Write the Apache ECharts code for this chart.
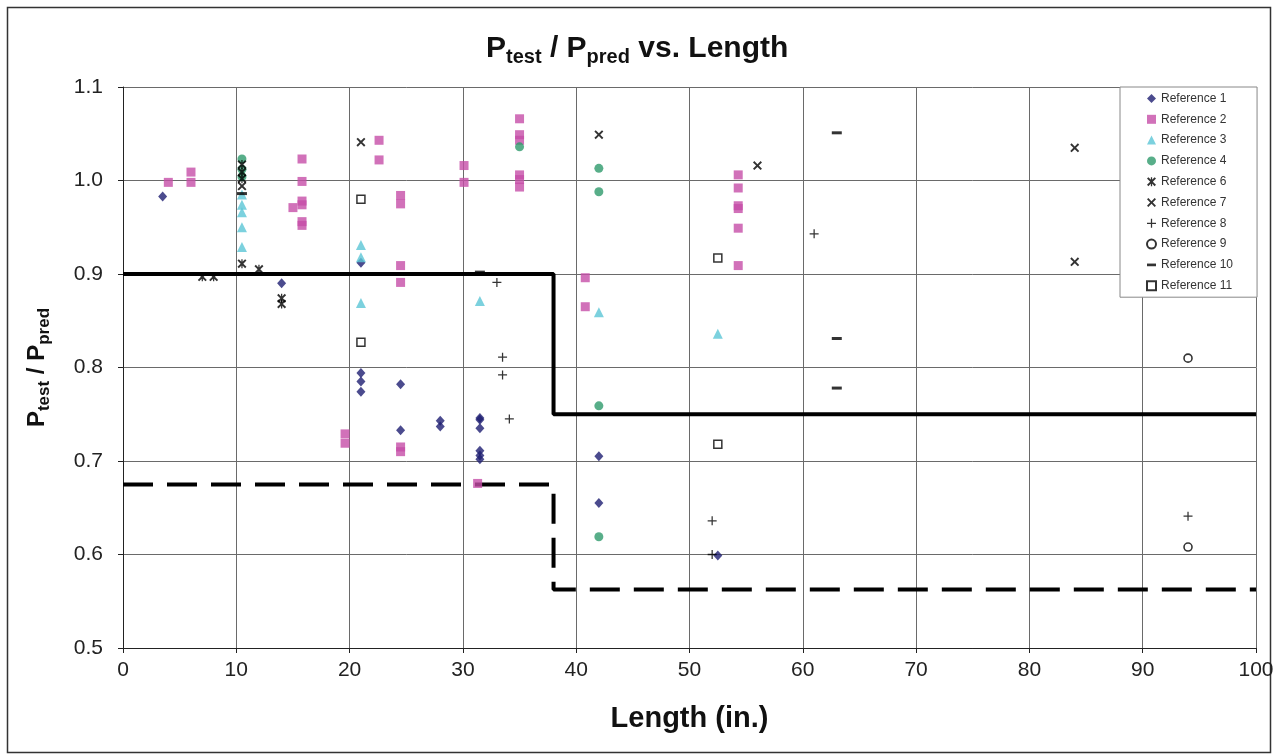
<!DOCTYPE html>
<html>
<head>
<meta charset="utf-8">
<script src="https://cdn.jsdelivr.net/npm/echarts@6/dist/echarts.min.js"></script>
<style>
  html, body { margin: 0; padding: 0; background: #fff; }
  #chart { width: 1278px; height: 754px; }
</style>
</head>
<body>
<div id="chart"></div>
<script>
// ---- Data ----
const seriesNames = ['Reference 1','Reference 2','Reference 3','Reference 4','Reference 6','Reference 7','Reference 8','Reference 9','Reference 10','Reference 11'];

const ref1 = [[3.5,0.983],[14,0.890],[21,0.912],[21,0.794],[21,0.785],[21,0.774],[24.5,0.782],[24.5,0.733],[28,0.743],[28,0.737],[31.5,0.746],[31.5,0.744],[31.5,0.735],[31.5,0.711],[31.5,0.706],[31.5,0.702],[42,0.705],[42,0.655],[52.5,0.599]];
const ref2 = [[4,0.998],[6,1.009],[6,0.998],[15,0.971],[15.8,1.023],[15.8,0.999],[15.8,0.978],[15.8,0.974],[15.8,0.956],[15.8,0.952],[19.6,0.729],[19.6,0.719],[22.6,1.043],[22.6,1.022],[24.5,0.984],[24.5,0.975],[24.5,0.909],[24.5,0.891],[24.5,0.715],[24.5,0.710],[30.1,1.016],[30.1,0.998],[31.3,0.676],[35,1.066],[35,1.049],[35,1.043],[35,1.006],[35,1.001],[35,0.993],[40.8,0.896],[40.8,0.865],[54.3,1.006],[54.3,0.992],[54.3,0.973],[54.3,0.970],[54.3,0.949],[54.3,0.909]];
const ref3 = [[10.5,0.985],[10.5,0.974],[10.5,0.966],[10.5,0.950],[10.5,0.929],[21,0.931],[21,0.918],[21,0.869],[31.5,0.871],[42,0.859],[52.5,0.836]];
const ref4 = [[10.5,1.023],[10.5,1.012],[10.5,1.004],[35,1.036],[42,1.013],[42,0.988],[42,0.759],[42,0.619]];
const ref6 = [[7,0.897],[8,0.897],[10.5,0.911],[12,0.905],[14,0.874],[14,0.868],[10.5,1.017],[10.5,1.009],[10.5,1.002]];
const ref7 = [[10.5,0.994],[21,1.041],[42,1.049],[56,1.016],[84,1.035],[84,0.913]];
const ref8 = [[33,0.891],[33.5,0.811],[33.5,0.792],[34.1,0.745],[52,0.636],[52,0.600],[61,0.943],[94,0.641]];
const ref9 = [[94,0.810],[94,0.608]];
const ref10 = [[10.5,0.986],[31.5,0.902],[63,1.051],[63,0.831],[63,0.778]];
const ref11 = [[21,0.980],[21,0.827],[52.5,0.917],[52.5,0.718]];

const upperLimit = [[0,0.9],[38,0.9],[38,0.75],[100,0.75]];
const lowerLimit = [[0,0.675],[38,0.675],[38,0.5625],[100,0.5625]];

const xTicks = { min: 0, max: 100, interval: 10 };
const yTicks = { min: 0.5, max: 1.1, interval: 0.1 };

// ---- Styling ----
const FONT = '"Liberation Sans", Arial, Helvetica, sans-serif';
const SYM_PLUS = 'path://M4.3,0H5.7V4.3H10V5.7H5.7V10H4.3V5.7H0V4.3H4.3Z';
const SYM_X = 'path://M0,1.5L1.5,0L5,3.5L8.5,0L10,1.5L6.5,5L10,8.5L8.5,10L5,6.5L1.5,10L0,8.5L3.5,5Z';
const SYM_STAR = 'path://M0,1.5L1.5,0L5,3.5L8.5,0L10,1.5L6.5,5L10,8.5L8.5,10L5,6.5L1.5,10L0,8.5L3.5,5Z M4.3,0H5.7V10H4.3Z';
const SYM_DASH = 'path://M0,0H10V3H0Z';

function sc(name, data, symbol, size, itemStyle, extra) {
  return Object.assign({
    name, type: 'scatter', data, symbol, symbolSize: size,
    itemStyle, z: 3, symbolKeepAspect: true
  }, extra || {});
}

const series = [
  { name: 'upper', type: 'line', data: upperLimit, symbol: 'none', silent: true, z: 1,
    lineStyle: { color: '#000', width: 4 } },
  { name: 'lower', type: 'line', data: lowerLimit, symbol: 'none', silent: true, z: 1,
    lineStyle: { color: '#000', width: 4, type: [30, 14] } },
  sc('Reference 1', ref1, 'diamond', [9, 10], { color: '#1E1E72' }),
  sc('Reference 2', ref2, 'rect', 9, { color: '#C64EA8' }),
  sc('Reference 3', ref3, 'triangle', 10, { color: '#5BC6D6' }),
  sc('Reference 4', ref4, 'circle', 9, { color: '#2E9A6B' }),
  sc('Reference 6', ref6, SYM_STAR, 9, { color: '#000' }),
  sc('Reference 7', ref7, SYM_X, 9, { color: '#000' }),
  sc('Reference 8', ref8, SYM_PLUS, 9, { color: '#000' }),
  sc('Reference 9', ref9, 'circle', 8, { color: '#fff', borderColor: '#000', borderWidth: 1.6 }),
  sc('Reference 10', ref10, SYM_DASH, 10, { color: '#000' }),
  sc('Reference 11', ref11, 'rect', 8, { color: '#fff', borderColor: '#000', borderWidth: 1.5 })
];

const chart = echarts.init(document.getElementById('chart'), null, { renderer: 'canvas' });
chart.setOption({
  backgroundColor: '#fff',
  animation: false,
  textStyle: { fontFamily: FONT },
  title: {
    text: '{m|P}{s|test}{m| / P}{s|pred}{m| vs. Length}',
    left: 486, top: 33.5, padding: 0,
    textStyle: {
      rich: {
        m: { fontSize: 30, fontWeight: 'bold', color: '#111', lineHeight: 32, verticalAlign: 'top', fontFamily: FONT },
        s: { fontSize: 20, fontWeight: 'bold', color: '#111', lineHeight: 22, padding: [14, 0, 0, 0], verticalAlign: 'top', fontFamily: FONT }
      }
    }
  },
  legend: {
    data: seriesNames,
    orient: 'vertical',
    left: 1120, top: 87,
    padding: [4.5, 24, 4.5, 26],
    itemWidth: 9, itemHeight: 9, itemGap: 6.8,
    backgroundColor: '#fff',
    borderColor: '#888', borderWidth: 1, borderRadius: 0,
    textStyle: { fontSize: 12, lineHeight: 14, color: '#333', fontFamily: FONT },
    selectedMode: false,
    z: 10
  },
  grid: { left: 123, right: 22, top: 87, bottom: 106, containLabel: false },
  xAxis: {
    type: 'value', min: xTicks.min, max: xTicks.max, interval: xTicks.interval,
    name: 'Length (in.)', nameLocation: 'middle', nameGap: 56,
    nameTextStyle: { fontSize: 29, fontWeight: 'bold', color: '#111', fontFamily: FONT },
    axisLine: { show: true, lineStyle: { color: '#222', width: 1 } },
    axisTick: { show: true, length: 5, lineStyle: { color: '#222' } },
    axisLabel: { fontSize: 21, color: '#222', margin: 12, fontFamily: FONT },
    splitLine: { show: true, lineStyle: { color: '#6a6a6a', width: 1 } }
  },
  yAxis: {
    type: 'value', min: yTicks.min, max: yTicks.max, interval: yTicks.interval,
    name: '{m|P}{s|test}{m| / P}{s|pred}', nameLocation: 'middle', nameRotate: 90, nameGap: 72,
    nameTextStyle: {
      rich: {
        m: { fontSize: 24, fontWeight: 'bold', color: '#111', lineHeight: 26, verticalAlign: 'top', fontFamily: FONT },
        s: { fontSize: 17, fontWeight: 'bold', color: '#111', lineHeight: 18, padding: [10.5, 0, 0, 0], verticalAlign: 'top', fontFamily: FONT }
      }
    },
    axisLine: { show: true, lineStyle: { color: '#222', width: 1 } },
    axisTick: { show: true, length: 5, lineStyle: { color: '#222' } },
    axisLabel: { fontSize: 21, color: '#222', margin: 20, fontFamily: FONT, formatter: v => v.toFixed(1) },
    splitLine: { show: true, lineStyle: { color: '#6a6a6a', width: 1 } }
  },
  graphic: [
    { type: 'rect', shape: { x: 7.5, y: 7.5, width: 1263, height: 745 }, silent: true, z: -1,
      style: { fill: 'none', stroke: '#333', lineWidth: 1.5 } }
  ],
  series
});
</script>
</body>
</html>
